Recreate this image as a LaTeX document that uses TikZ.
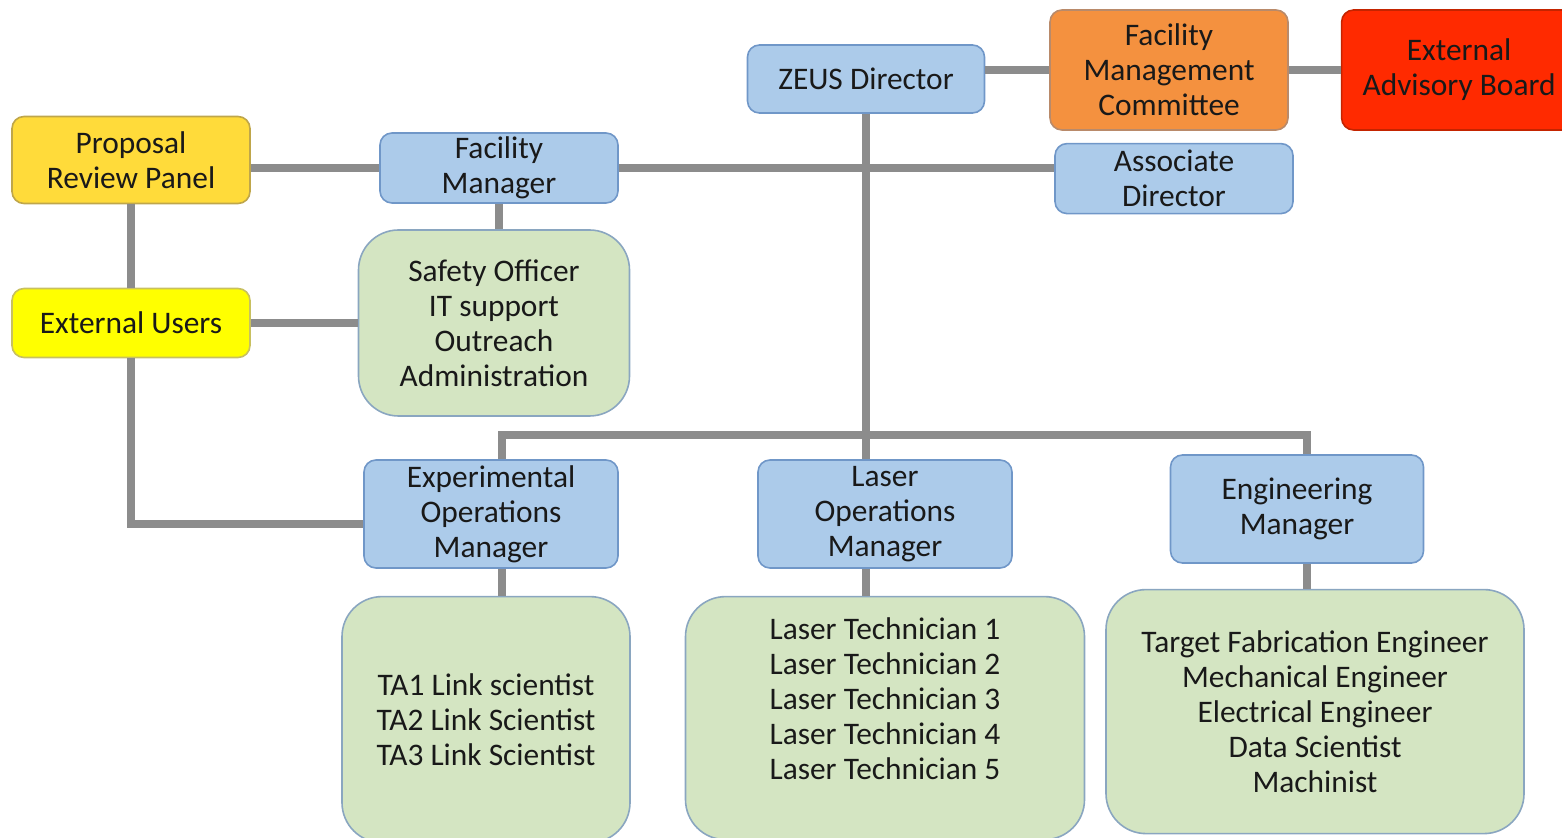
\documentclass[tikz,border=0pt]{standalone}
\usepackage{fontspec}
\setmainfont{Carlito}
\usetikzlibrary{positioning}

\definecolor{roleblue}{HTML}{ACCBEA}
\definecolor{roleline}{HTML}{7097C8}
\definecolor{staffgreen}{HTML}{D4E5C2}
\definecolor{staffline}{HTML}{8AA6C0}
\definecolor{committee}{HTML}{F4913F}
\definecolor{committeeline}{HTML}{B98A6A}
\definecolor{advisory}{HTML}{FF2A00}
\definecolor{advisoryline}{HTML}{C42400}
\definecolor{panel}{HTML}{FFDB3A}
\definecolor{panelline}{HTML}{BFA64A}
\definecolor{users}{HTML}{FFFF00}
\definecolor{usersline}{HTML}{C8C060}
\definecolor{linkgray}{HTML}{8C8C8C}

\begin{document}
\begin{tikzpicture}[x=0.5pt, y=-0.5pt,
		box/.style={draw, line width=0.8pt, rounded corners=6pt, align=center, inner sep=0pt,
			text=black!90, font=\fontsize{15.7}{17.5}\selectfont},
		role/.style={box, fill=roleblue, draw=roleline},
		staff/.style={box, fill=staffgreen, draw=staffline, rounded corners=20pt},
		link/.style={draw=linkgray, line width=4pt}]
		\useasboundingbox (0,0) rectangle (1562,838);

		% top level
		\node (zeus) [role, minimum width=118.5pt, minimum height=34pt] at (866,79) {ZEUS Director};
		\node (fmc) [box, fill=committee, draw=committeeline, minimum width=119pt, minimum height=60pt] at (1169,70) {Facility\\Management\\Committee};
		\node (eab) [box, fill=advisory, draw=advisoryline, minimum width=117.5pt, minimum height=60pt, right=26pt of fmc] {External\\Advisory Board};
		\node (ad) [role, minimum width=119pt, minimum height=35pt, below=6pt of fmc, xshift=2.5pt] {Associate\\Director};

		% left side
		\node (prp) [box, fill=panel, draw=panelline, minimum width=119pt, minimum height=43.5pt] at (131,160) {Proposal\\Review Panel};
		\node (fm) [role, minimum width=119pt, minimum height=35pt] at (499,168) {Facility\\Manager};
		\node (safety) [staff, minimum width=135.5pt, minimum height=93pt] at (494,323) {Safety Officer\\IT support\\Outreach\\Administration};
		\node (eu) [box, fill=users, draw=usersline, minimum width=119pt, minimum height=34.5pt] at (131,323) {External Users};

		% managers
		\node (eom) [role, minimum width=127pt, minimum height=54pt] at (491,514) {Experimental\\Operations\\Manager};
		\node (lom) [role, minimum width=127pt, minimum height=54pt] at (885,514) {Laser\\Operations\\Manager};
		\node (em) [role, minimum width=126.5pt, minimum height=54pt] at (1297,509) {Engineering\\Manager};

		% teams
		\node (ta) [staff, minimum width=144pt, minimum height=123pt, below=13.5pt of eom, xshift=-2.5pt] {TA1 Link scientist\\TA2 Link Scientist\\TA3 Link Scientist};
		\node (laser) [staff, minimum width=199.5pt, minimum height=121.5pt, text depth=20pt, below=13.5pt of lom] {Laser Technician 1\\Laser Technician 2\\Laser Technician 3\\Laser Technician 4\\Laser Technician 5};
		\node (eng) [staff, minimum width=209pt, minimum height=122pt, below=12.5pt of em, xshift=9pt] {Target Fabrication Engineer\\Mechanical Engineer\\Electrical Engineer\\Data Scientist\\Machinist};

		\coordinate (hub) at (866,435);

		\draw [link] (zeus.east |- fmc.west) -- (fmc.west);
		\draw [link] (fmc) -- (eab);
		\draw [link] (prp.east |- fm.west) -- (fm.west);
		\draw [link] (fm.east) -- (fm.east -| ad.west);
		\draw [link] (fm.south) -- (fm.south |- safety.north);
		\draw [link] (prp) -- (eu);
		\draw [link] (eu) -- (safety);
		\draw [link] (eu.south) |- ([yshift=-5pt]eom.west);
		\draw [link] (zeus.south) -- (zeus.south |- lom.north);
		\draw [link] ([xshift=5.5pt]eom.north) |- (hub) -| ([xshift=5pt]em.north);
		\draw [link] ([xshift=5.5pt]eom.south) -- ([xshift=5.5pt]eom.south |- ta.north);
		\draw [link] (zeus.south |- lom.south) -- (zeus.south |- laser.north);
		\draw [link] ([xshift=5pt]em.south) -- ([xshift=5pt]em.south |- eng.north);
	\end{tikzpicture}
\end{document}
